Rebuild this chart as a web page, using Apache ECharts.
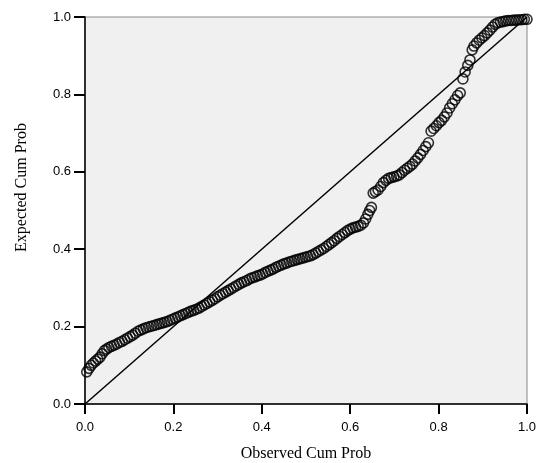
<!DOCTYPE html>
<html>
<head>
<meta charset="utf-8">
<script src="https://cdn.jsdelivr.net/npm/echarts@6/dist/echarts.min.js"></script>
<style>
  html, body { margin: 0; padding: 0; background: #fff; }
  #chart { width: 540px; height: 463px; }
</style>
</head>
<body>
<div id="chart"></div>
<script>
  var xTitle = 'Observed Cum Prob';
  var yTitle = 'Expected Cum Prob';
  var tickValues = [0, 0.2, 0.4, 0.6, 0.8, 1.0];

  // observed cumulative probability (x) and expected cumulative probability (y)
  var observed = [
    0.004, 0.009, 0.014, 0.019, 0.024, 0.029, 0.034, 0.039, 0.044, 0.049,
    0.054, 0.060, 0.066, 0.072, 0.078, 0.084, 0.090, 0.096, 0.102, 0.108,
    0.114, 0.120, 0.126, 0.132, 0.138, 0.144, 0.150, 0.156, 0.162, 0.168,
    0.174, 0.180, 0.186, 0.192, 0.198, 0.204, 0.210, 0.216, 0.222, 0.228,
    0.234, 0.240, 0.246, 0.252, 0.258, 0.264, 0.270, 0.276, 0.282, 0.288,
    0.294, 0.300, 0.306, 0.312, 0.318, 0.324, 0.330, 0.336, 0.342, 0.348,
    0.354, 0.360, 0.366, 0.372, 0.378, 0.384, 0.390, 0.396, 0.402, 0.408,
    0.414, 0.420, 0.426, 0.432, 0.438, 0.444, 0.450, 0.456, 0.462, 0.468,
    0.474, 0.480, 0.486, 0.492, 0.498, 0.504, 0.510, 0.516, 0.522, 0.528,
    0.534, 0.540, 0.546, 0.552, 0.558, 0.564, 0.570, 0.576, 0.582, 0.588,
    0.594, 0.600, 0.606, 0.612, 0.618, 0.624, 0.630, 0.635, 0.640, 0.644,
    0.648, 0.652, 0.657, 0.663, 0.669, 0.675, 0.681, 0.687, 0.693, 0.699,
    0.705, 0.711, 0.717, 0.723, 0.729, 0.735, 0.741, 0.747, 0.753, 0.759,
    0.765, 0.771, 0.777, 0.783, 0.789, 0.795, 0.801, 0.807, 0.813, 0.819,
    0.825, 0.831, 0.837, 0.843, 0.849, 0.855, 0.860, 0.866, 0.871, 0.876,
    0.880, 0.886, 0.892, 0.898, 0.904, 0.910, 0.916, 0.922, 0.928, 0.934,
    0.940, 0.946, 0.952, 0.958, 0.964, 0.970, 0.976, 0.982, 0.988, 0.994,
    1.000
  ];
  var expected = [
    0.083, 0.092, 0.100, 0.106, 0.111, 0.116, 0.121, 0.130, 0.138, 0.142,
    0.146, 0.149, 0.152, 0.155, 0.159, 0.162, 0.166, 0.170, 0.174, 0.178,
    0.183, 0.188, 0.191, 0.194, 0.197, 0.199, 0.201, 0.203, 0.205, 0.207,
    0.209, 0.211, 0.213, 0.216, 0.219, 0.222, 0.225, 0.228, 0.231, 0.234,
    0.237, 0.240, 0.242, 0.245, 0.248, 0.252, 0.256, 0.260, 0.264, 0.268,
    0.272, 0.277, 0.281, 0.285, 0.289, 0.293, 0.297, 0.301, 0.305, 0.309,
    0.313, 0.316, 0.319, 0.323, 0.326, 0.328, 0.331, 0.333, 0.336, 0.340,
    0.343, 0.346, 0.349, 0.353, 0.356, 0.359, 0.362, 0.364, 0.367, 0.369,
    0.371, 0.373, 0.375, 0.377, 0.379, 0.381, 0.383, 0.386, 0.390, 0.394,
    0.398, 0.402, 0.407, 0.412, 0.417, 0.422, 0.428, 0.433, 0.438, 0.443,
    0.448, 0.452, 0.455, 0.457, 0.459, 0.462, 0.468, 0.478, 0.490, 0.500,
    0.508, 0.545, 0.549, 0.553, 0.562, 0.572, 0.578, 0.583, 0.585, 0.587,
    0.589, 0.592, 0.598, 0.604, 0.609, 0.614, 0.620, 0.628, 0.636, 0.645,
    0.655, 0.665, 0.675, 0.705, 0.712, 0.719, 0.727, 0.733, 0.742, 0.752,
    0.765, 0.776, 0.786, 0.797, 0.804, 0.840, 0.858, 0.875, 0.889, 0.915,
    0.925, 0.933, 0.940, 0.946, 0.952, 0.959, 0.966, 0.974, 0.981, 0.985,
    0.987, 0.988, 0.990, 0.991, 0.991, 0.992, 0.992, 0.993, 0.993, 0.994,
    0.994
  ];
  var refLine = [[0, 0], [1, 1]];

  var points = observed.map(function(x, i) { return [x, expected[i]]; });

  var chart = echarts.init(document.getElementById('chart'), null, { renderer: 'canvas' });

  var tickLabel = {
    color: '#000',
    fontFamily: 'Liberation Sans, Arial, sans-serif',
    fontSize: 13,
    formatter: function(v) { return v.toFixed(1); }
  };
  var titleStyle = {
    color: '#000',
    fontFamily: 'Liberation Serif, Times New Roman, serif',
    fontSize: 16
  };

  chart.setOption({
    backgroundColor: '#fff',
    animation: false,
    grid: {
      left: 85,
      right: 13,
      top: 17,
      bottom: 59,
      containLabel: false,
      outerBoundsMode: 'none',
      show: true,
      backgroundColor: '#f0f0f0',
      borderColor: '#888',
      borderWidth: 1
    },
    xAxis: {
      type: 'value',
      min: 0,
      max: 1,
      interval: 0.2,
      name: xTitle,
      nameLocation: 'middle',
      nameGap: 42,
      nameTextStyle: titleStyle,
      axisLine: { show: true, onZero: false, lineStyle: { color: '#000', width: 1.5 } },
      axisTick: { show: true, inside: false, length: 10, lineStyle: { color: '#000', width: 2 } },
      axisLabel: Object.assign({ margin: 17 }, tickLabel),
      splitLine: { show: false }
    },
    yAxis: {
      type: 'value',
      min: 0,
      max: 1,
      interval: 0.2,
      name: yTitle,
      nameLocation: 'middle',
      nameGap: 55,
      nameRotate: 90,
      nameTextStyle: Object.assign({ padding: [0, 0, 0, 46] }, titleStyle),
      axisLine: { show: true, onZero: false, lineStyle: { color: '#000', width: 1.5 } },
      axisTick: { show: true, inside: false, length: 11, lineStyle: { color: '#000', width: 2 } },
      axisLabel: Object.assign({ margin: 14 }, tickLabel),
      splitLine: { show: false }
    },
    series: [
      {
        type: 'scatter',
        data: points,
        symbol: 'circle',
        symbolSize: 10,
        itemStyle: { color: 'rgba(0,0,0,0)', borderColor: '#000', borderWidth: 1.6 },
        z: 2
      },
      {
        type: 'line',
        data: refLine,
        symbol: 'none',
        lineStyle: { color: '#000', width: 1.5 },
        z: 3
      }
    ]
  });
</script>
</body>
</html>
